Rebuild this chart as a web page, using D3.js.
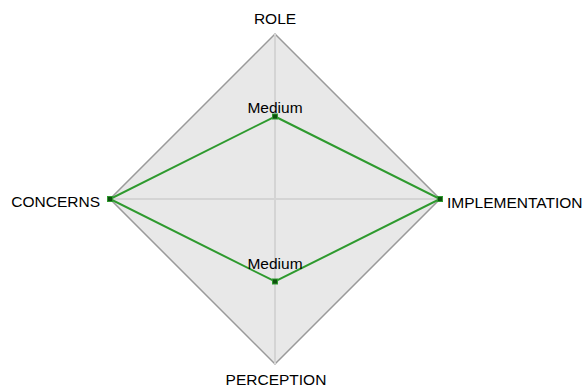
<!DOCTYPE html>
<html><head><meta charset="utf-8">
<script src="https://cdn.jsdelivr.net/npm/d3@7"></script>
<style>body{margin:0;background:#fff}svg{display:block}text{font-family:"Liberation Sans",Arial,sans-serif}</style>
</head><body><svg id="c" width="588" height="389"></svg>
<script>
const axes = ["ROLE","IMPLEMENTATION","PERCEPTION","CONCERNS"];
const values = [0.5, 1, 0.5, 1];
const valueLabels = ["Medium","","Medium",""];

const cx = 275, cy = 199, R = 165;
const svg = d3.select("#c");
const r = d3.scaleLinear().domain([0,1]).range([0,R]);
const ang = d3.scaleLinear().domain([0, axes.length]).range([0, 2*Math.PI]);
const pt = (i, v) => [cx + r(v)*Math.sin(ang(i)), cy - r(v)*Math.cos(ang(i))];

const outer = axes.map((a,i)=>pt(i,1));
svg.append("polygon").attr("points", outer.map(p=>p.join(",")).join(" "))
  .attr("fill","#e8e8e8").attr("stroke","#9a9a9a").attr("stroke-width",1.5);

axes.forEach((a,i)=>{
  const p = pt(i,1);
  svg.append("line").attr("x1",cx).attr("y1",cy).attr("x2",p[0]).attr("y2",p[1])
    .attr("stroke","#d4d4d4").attr("stroke-width",2);
});

const line = d3.line().curve(d3.curveLinearClosed);
const pts = values.map((v,i)=>pt(i,v));
svg.append("path").attr("d", line(pts)).attr("fill","none")
  .attr("stroke","#2e9a2e").attr("stroke-width",2);

pts.forEach(p=>{
  svg.append("rect").attr("x",p[0]-2.5).attr("y",p[1]-2.5).attr("width",5).attr("height",5)
    .attr("fill","#0f500f").attr("stroke","#2e9a2e").attr("stroke-width",1);
});

const valueDy = [-4, 0, -13, 0];
pts.forEach((p,i)=>{
  if(!valueLabels[i]) return;
  svg.append("text").attr("x",p[0]).attr("y",p[1]+valueDy[i]).attr("text-anchor","middle")
    .attr("font-size",15.5).attr("fill","#000").text(valueLabels[i]);
});

const labelPos = [
  {dx:0, dy:-10, anchor:"middle"},
  {dx:7, dy:9, anchor:"start"},
  {dx:1, dy:21, anchor:"middle"},
  {dx:-10, dy:8, anchor:"end"}
];
axes.forEach((a,i)=>{
  const p = pt(i,1), l = labelPos[i];
  svg.append("text").attr("x",p[0]+l.dx).attr("y",p[1]+l.dy).attr("text-anchor",l.anchor)
    .attr("font-size",15.5).attr("fill","#000").text(a);
});
</script></body></html>
